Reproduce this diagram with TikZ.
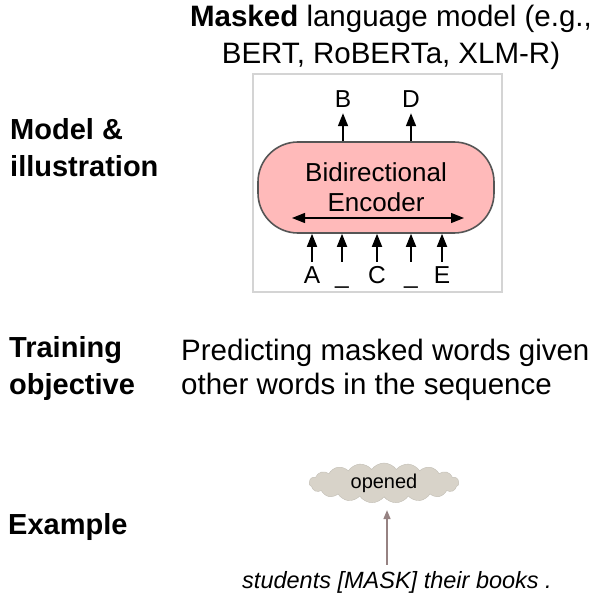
\documentclass[tikz,border=0pt]{standalone}
\usepackage{fontspec}
\setmainfont{Liberation Sans}
\usepackage{tikz}
\usetikzlibrary{shapes, shapes.symbols, arrows.meta, positioning, calc}

\definecolor{encpink}{RGB}{255,186,186}
\definecolor{encline}{RGB}{85,85,85}
\definecolor{framegray}{RGB}{212,212,212}
\definecolor{cloudgray}{RGB}{216,211,201}
\definecolor{cloudarrow}{RGB}{150,130,130}

\tikzset{
    rowlabel/.style={font=\fontsize{29}{37}\selectfont\bfseries, align=left, anchor=west, inner sep=0pt},
    bodytext/.style={font=\fontsize{29.5}{34}\selectfont, align=left, anchor=west, inner sep=0pt},
    word/.style={font=\fontsize{24.5}{24.5}\selectfont, inner sep=0pt, text height=21pt, text depth=5.5pt, anchor=base},
    arr/.style={-{Triangle[length=13pt, width=10pt]}, line width=1.7pt},
}

\begin{document}
\begin{tikzpicture}[x=1pt, y=-1pt]
    \useasboundingbox (0,0) rectangle (609,609);

    % Title
    \node[font=\fontsize{29.5}{37}\selectfont, align=center] (title) at (391,37)
        {\textbf{Masked} language model (e.g.,\\BERT, RoBERTa, XLM-R)};

    % Row labels
    \node[rowlabel] (lblmodel) at (10,148) {Model \&\\illustration};
    \node[rowlabel] (lbltrain) at (9,368) {Training\\objective};
    \node[rowlabel] (lblexample) at (8,527) {Example};

    % Illustration frame and encoder
    \node[draw=framegray, line width=1.2pt, minimum width=249pt, minimum height=218pt] (frame) at (377.5,183) {};
    \node[draw=encline, fill=encpink, line width=1.6pt, rounded corners=40pt,
          minimum width=236pt, minimum height=91pt, align=center,
          font=\fontsize{26}{30}\selectfont] (encoder) at (376,187.5) {Bidirectional\\Encoder};
    \coordinate (bil) at (292,218);
    \coordinate (bir) at (464,218);
    \draw[{Triangle[length=13pt, width=10pt]}-{Triangle[length=13pt, width=10pt]}, line width=1.3pt] (bil) -- (bir);

    % Predicted words
    \node[word] (outb) at (343,107.5) {B};
    \node[word] (outd) at (411,107.5) {D};
    \draw[arr] (encoder.north -| outb) -- (outb);
    \draw[arr] (encoder.north -| outd) -- (outd);

    % Input words
    \node[word] (ina) at (312,283) {A};
    \node[word] (inm1) at (342,283) {\_};
    \node[word] (inc) at (377,283) {C};
    \node[word] (inm2) at (411,283) {\_};
    \node[word] (ine) at (442,283) {E};
    \foreach \w in {ina, inm1, inc, inm2, ine}
        \draw[arr] (\w) -- (\w |- encoder.south);

    % Training objective
    \node[bodytext] (objective) at (181,370) {Predicting masked words given\\other words in the sequence};

    % Example
    \node[cloud, cloud puffs=19, cloud puff arc=110, aspect=4, fill=cloudgray, draw=cloudgray!90!black, line width=0.4pt,
          minimum width=150pt, minimum height=40pt, inner sep=0pt,
          font=\fontsize{20}{20}\selectfont] (cloud) at (384,483) {opened};
    \node[font=\fontsize{23.5}{23.5}\selectfont\itshape] (sentence) at (397,582) {students [MASK] their books .};
    \draw[-{Triangle[length=9pt, width=7pt]}, line width=1.5pt, cloudarrow, shorten >=13pt, shorten <=3pt]
        ([xshift=3pt]cloud.south |- sentence.north) -- ([xshift=3pt]cloud.south);
\end{tikzpicture}
\end{document}
